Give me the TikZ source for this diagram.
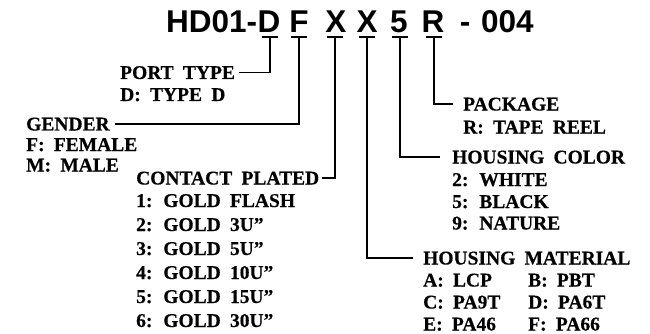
\documentclass[tikz,border=0pt]{standalone}
\usepackage{fontspec}
\setmainfont{Liberation Serif}[WordSpace=1.9, BoldFeatures={FakeBold=0.4}]
\newfontfamily\titlefont{Liberation Sans}[WordSpace=1.0]
\begin{document}
\begin{tikzpicture}[x=1pt,y=-1pt,
  lbl/.style={font=\bfseries\fontsize{19.5}{19.5}\selectfont, inner sep=0pt, anchor=base west},
  ttl/.style={font=\titlefont\bfseries\fontsize{31.5}{31.5}\selectfont, inner sep=0pt, anchor=base},
  conn/.style={line width=1.5pt, line cap=butt},
  tickbar/.style={line width=1.5pt}]
\useasboundingbox (0,0) rectangle (650,334);
% title characters
\node[ttl] (pD) at (269,32.5) {D};
\node[ttl, anchor=base east] (pre) at (pD.base west) {HD01-};
\node[ttl] (pF) at (299,32.5) {F};
\node[ttl] (pX1) at (336,32.5) {X};
\node[ttl] (pX2) at (367,32.5) {X};
\node[ttl] (p5) at (399,32.5) {5};
\node[ttl] (pR) at (433,32.5) {R};
\node[ttl] (dash) at (465,32.5) {-};
\node[ttl, anchor=base west] (suf) at (481,32.5) {004};
% tick coordinates
\coordinate (tD) at (270,37);
\coordinate (tF) at (299,37);
\coordinate (tX1) at (335,37);
\coordinate (tX2) at (367,37);
\coordinate (t5) at (400,37);
\coordinate (tR) at (434,37);
\foreach \c in {tD,tF,tX1,tX2,t5,tR}{
  \draw[tickbar] ([xshift=-8pt]\c) -- ([xshift=8pt]\c);
}
% labels
\node[lbl] (port) at (120,79) {PORT TYPE};
\node[lbl] (portD) at (120,101) {D: TYPE D};
\node[lbl] (gender) at (26,130.5) {GENDER};
\node[lbl] (genF) at (26,151) {F: FEMALE};
\node[lbl] (genM) at (26,171.5) {M: MALE};
\node[lbl] (contact) at (136,184.5) {CONTACT PLATED};
\node[lbl] (c1) at (136,207) {1: GOLD FLASH};
\node[lbl] (c2) at (136,231) {2: GOLD 3U''};
\node[lbl] (c3) at (136,255) {3: GOLD 5U''};
\node[lbl] (c4) at (136,279) {4: GOLD 10U''};
\node[lbl] (c5) at (136,303) {5: GOLD 15U''};
\node[lbl] (c6) at (136,327) {6: GOLD 30U''};
\node[lbl] (pack) at (463,110.5) {PACKAGE};
\node[lbl] (packR) at (463,133.5) {R: TAPE REEL};
\node[lbl] (color) at (452,163.5) {HOUSING COLOR};
\node[lbl] (col2) at (452,186) {2: WHITE};
\node[lbl] (col5) at (452,208) {5: BLACK};
\node[lbl] (col9) at (452,229.5) {9: NATURE};
\node[lbl] (mat) at (423,264.5) {HOUSING MATERIAL};
\node[lbl] (matA) at (423,286.5) {A: LCP};
\node[lbl] (matB) at (528,286.5) {B: PBT};
\node[lbl] (matC) at (423,308.5) {C: PA9T};
\node[lbl] (matD) at (528,308.5) {D: PA6T};
\node[lbl] (matE) at (423,330.5) {E: PA46};
\node[lbl] (matF) at (528,330.5) {F: PA66};
% connectors
\draw[conn] (tD) |- ([xshift=4pt]port.east);
\draw[conn] (tF) |- ([xshift=5pt]gender.east);
\draw[conn] (tX1) |- ([xshift=3pt]contact.east);
\draw[conn] (tX2) |- ([xshift=-10pt]mat.west);
\draw[conn] (t5) |- ([xshift=-12pt]color.west);
\draw[conn] (tR) |- ([xshift=-10pt]pack.west);
\end{tikzpicture}
\end{document}
